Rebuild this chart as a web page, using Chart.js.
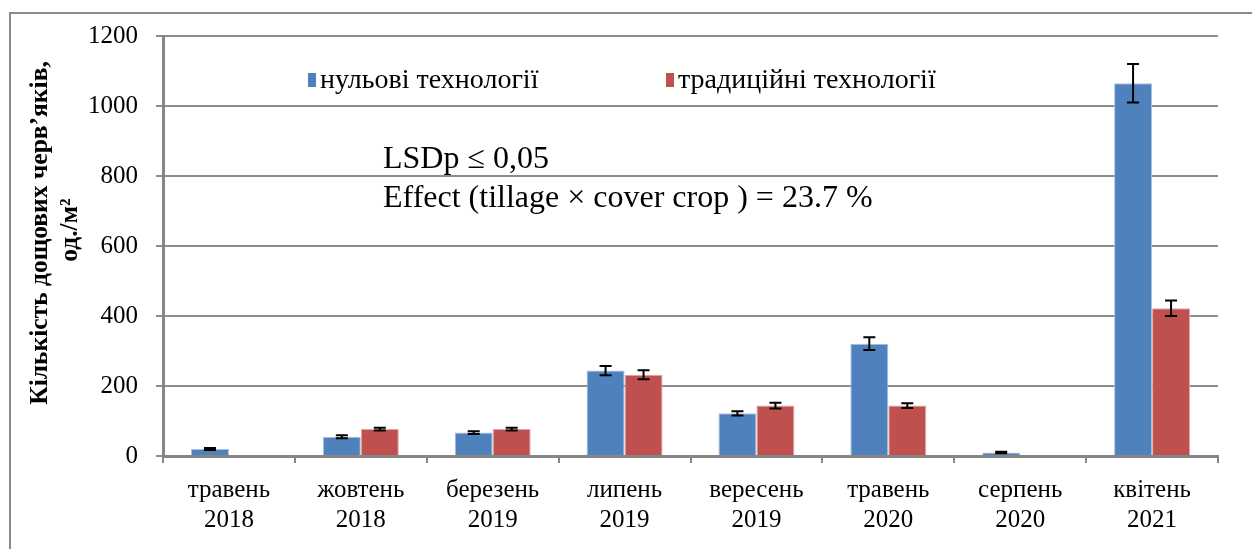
<!DOCTYPE html>
<html>
<head>
<meta charset="utf-8">
<script src="https://cdn.jsdelivr.net/npm/chart.js@4/dist/chart.umd.min.js"></script>
<style>
  html, body { margin: 0; padding: 0; background: #fff; }
  #wrap { width: 1252px; height: 549px; position: relative; }
</style>
</head>
<body>
<div id="wrap"><canvas id="chart" width="1252" height="549"></canvas></div>
<script>
const months = [
    ["травень", "2018"], ["жовтень", "2018"], ["березень", "2019"], ["липень", "2019"],
    ["вересень", "2019"], ["травень", "2020"], ["серпень", "2020"], ["квітень", "2021"]
];
const noTill = [20, 55, 67, 244, 122, 321, 10, 1065];
const noTillErr = [3, 4, 4, 13, 6, 18, 2, 55];
const conventional = [0, 77, 77, 232, 144, 144, 0, 422];
const conventionalErr = [0, 4, 4, 13, 8, 7, 0, 22];
const yTicks = [0, 200, 400, 600, 800, 1000, 1200];
const seriesNames = ["нульові технології", "традиційні технології"];
const yTitle = ["Кількість дощових черв’яків,", "од./м²"];
const notes = ["LSDp \u2264 0,05", "Effect (tillage \u00d7 cover crop ) = 23.7 %"];

const serif = "'Liberation Serif', 'Times New Roman', serif";
const axisGrey = "#868686";

// frame round the figure (only top and left show) + rotated y title
const frame = {
    id: "frame",
    beforeDraw(chart) {
        const ctx = chart.ctx;
        ctx.save();
        ctx.strokeStyle = "#8a8a8a";
        ctx.lineWidth = 2;
        ctx.beginPath();
        ctx.moveTo(10, 549);
        ctx.lineTo(10, 13);
        ctx.lineTo(1252, 13);
        ctx.stroke();
        ctx.restore();
    },
    afterDraw(chart) {
        const ctx = chart.ctx;
        ctx.save();
        ctx.fillStyle = "#000";
        ctx.font = "bold 25.5px " + serif;
        ctx.textAlign = "center";
        ctx.textBaseline = "middle";
        ctx.translate(40, 233);
        ctx.rotate(-Math.PI / 2);
        ctx.fillText(yTitle[0], 0, 0);
        ctx.fillText(yTitle[1], 3, 30);
        ctx.restore();
    }
};

const errorBars = {
    id: "errorBars",
    afterDatasetsDraw(chart) {
        const ctx = chart.ctx;
        const y = chart.scales.y;
        chart.data.datasets.forEach((ds, i) => {
            chart.getDatasetMeta(i).data.forEach((bar, j) => {
                const err = ds.errors[j];
                if (!err) return;
                const top = y.getPixelForValue(ds.data[j] + err);
                const bot = y.getPixelForValue(ds.data[j] - err);
                ctx.save();
                ctx.strokeStyle = "#000";
                ctx.lineWidth = 2;
                ctx.beginPath();
                ctx.moveTo(bar.x, top); ctx.lineTo(bar.x, bot);
                ctx.moveTo(bar.x - 6, top); ctx.lineTo(bar.x + 6, top);
                ctx.moveTo(bar.x - 6, bot); ctx.lineTo(bar.x + 6, bot);
                ctx.stroke();
                ctx.restore();
            });
        });
    }
};

// legend and the LSD note sit inside the plot area
const insideText = {
    id: "insideText",
    afterDraw(chart) {
        const ctx = chart.ctx;
        const a = chart.chartArea;
        ctx.save();
        ctx.textBaseline = "middle";
        ctx.fillStyle = "#000";
        ctx.font = "28px " + serif;
        const legendX = [a.left + 145, a.left + 503];
        chart.data.datasets.forEach((ds, i) => {
            ctx.fillStyle = ds.backgroundColor;
            ctx.fillRect(legendX[i], a.top + 37, 8, 14);
            ctx.fillStyle = "#000";
            ctx.fillText(ds.label, legendX[i] + 12, a.top + 45);
        });
        ctx.textBaseline = "alphabetic";
        ctx.font = "32px " + serif;
        ctx.fillText(notes[0], 383, 168);
        ctx.fillText(notes[1], 383, 207);
        ctx.restore();
    }
};

new Chart(document.getElementById("chart"), {
    type: "bar",
    data: {
        labels: months,
        datasets: [
            {
                label: seriesNames[0],
                data: noTill,
                errors: noTillErr,
                backgroundColor: "#4f81bd",
                borderColor: "#a9c1e0",
                borderWidth: 1
            },
            {
                label: seriesNames[1],
                data: conventional,
                errors: conventionalErr,
                backgroundColor: "#c0504d",
                borderColor: "#e0a9a7",
                borderWidth: 1
            }
        ]
    },
    options: {
        responsive: false,
        animation: false,
        layout: { padding: { top: 36, right: 34, left: 0, bottom: 0 } },
        datasets: { bar: { categoryPercentage: 0.576, barPercentage: 1 } },
        plugins: {
            legend: { display: false },
            tooltip: { enabled: false }
        },
        scales: {
            x: {
                afterFit(scale) { scale.height = 93; },
                grid: { drawOnChartArea: false, color: axisGrey, lineWidth: 2, tickLength: 7 },
                border: { color: axisGrey, width: 3 },
                ticks: { color: "#000", font: { family: serif, size: 25 }, padding: 12, maxRotation: 0 }
            },
            y: {
                min: 0,
                max: 1200,
                afterBuildTicks(scale) { scale.ticks = yTicks.map(v => ({ value: v })); },
                afterFit(scale) { scale.width = 163; },
                grid: { color: "#8c8c8c", lineWidth: 2, tickLength: 7 },
                border: { color: axisGrey, width: 3 },
                ticks: {
                    color: "#000",
                    font: { family: serif, size: 25 },
                    padding: 18,
                    callback: v => String(v)
                }
            }
        }
    },
    plugins: [frame, errorBars, insideText]
});
</script>
</body>
</html>
